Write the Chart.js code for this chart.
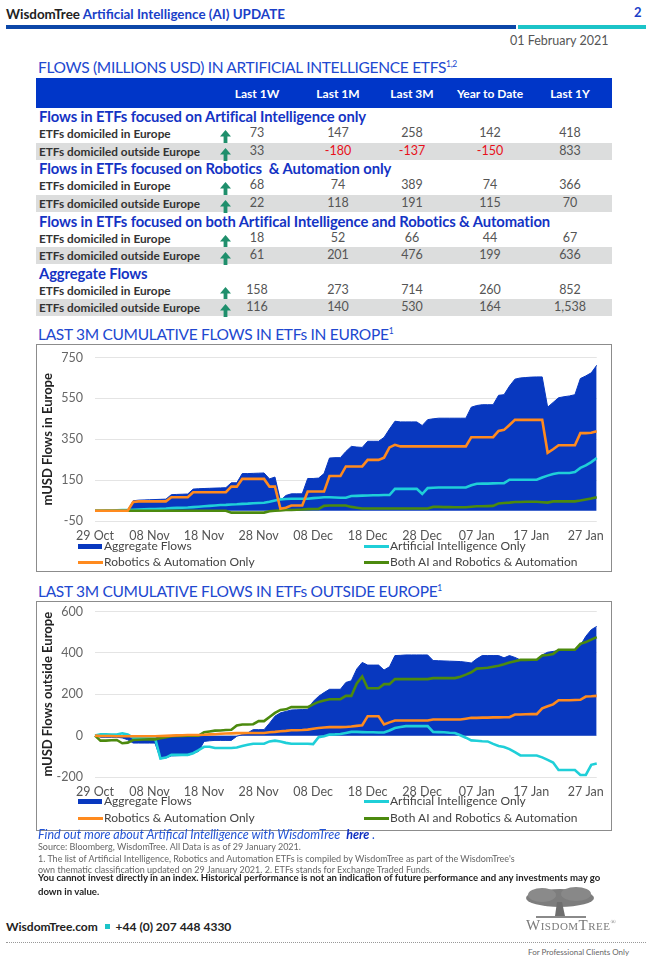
<!DOCTYPE html>
<html>
<head>
<meta charset="utf-8">
<script src="https://cdn.jsdelivr.net/npm/chart.js@4.4.0/dist/chart.umd.min.js"></script>
<style>
  body { margin: 0; width: 650px; height: 957px; background: #fff; font-family: Lato, "Noto Sans", sans-serif; position: relative; overflow: hidden; }
  .abs { position: absolute; white-space: nowrap; }
  canvas { display: block; position: absolute; }
  .blue { color: #1a3fc8; }
  .h2 { font-size: 15.5px; color: #2148d0; letter-spacing: -0.3px; }
  .h2 sup { font-size: 8.5px; }
  .box { position: absolute; left: 36px; width: 574px; border: 1.5px solid #8c8c8c; }
  .sect { font-size: 14.8px; font-weight: bold; color: #1433c4; letter-spacing: -0.1px; }
  .lab { font-size: 11.8px; font-weight: bold; color: #333; }
  .val { font-size: 12.5px; color: #555; transform: translateX(-50%); }
  .neg { color: #e8101a; }
  .hdr { font-size: 12px; font-weight: bold; color: #fff; transform: translateX(-50%); }
  .leg { font-size: 12px; color: #444; }
  .sw { position: absolute; }
  .foot { font-size: 9px; color: #666; }
</style>
</head>
<body>

<div class="abs" style="left:6px;top:6px;font-size:13.4px;font-weight:bold;color:#222;">WisdomTree <span class="blue">Artificial Intelligence (AI) UPDATE</span></div>
<div class="abs blue" style="left:634px;top:4px;font-size:13px;font-weight:bold;">2</div>
<div class="abs" style="left:6px;top:25px;width:510px;height:4px;background:#0c47a8;"></div>
<div class="abs" style="left:518px;top:25px;width:128px;height:4px;background:#1cc4c8;"></div>
<div class="abs" style="left:510px;top:33px;font-size:12.5px;color:#555;">01 February 2021</div>

<div class="abs h2" style="left:38px;top:58px;">FLOWS (MILLIONS USD) IN ARTIFICIAL INTELLIGENCE ETFS<sup>1,2</sup></div>
<div class="abs" style="left:36px;top:78px;width:576px;height:30px;background:#0036c8;"></div>
<div id="table"></div>

<div class="abs h2" style="left:38px;top:325px;">LAST 3M CUMULATIVE FLOWS IN ETFs IN EUROPE<sup>1</sup></div>
<div class="box" style="top:344px;height:226px;"></div>
<canvas id="chartEurope" width="574" height="212" style="left:37px;top:338px;width:574px;height:212px;"></canvas>
<div id="legendEurope"></div>

<div class="abs h2" style="left:38px;top:582px;">LAST 3M CUMULATIVE FLOWS IN ETFs OUTSIDE EUROPE<sup>1</sup></div>
<div class="box" style="top:601px;height:228px;"></div>
<canvas id="chartOutside" width="574" height="214" style="left:37px;top:592px;width:574px;height:214px;"></canvas>
<div id="legendOutside"></div>

<div class="abs" style="left:38px;top:827px;font-size:12.5px;font-style:italic;color:#2354d4;">Find out more about Artifical Intelligence with WisdomTree &nbsp;<b style="color:#1030c0;">here</b> .</div>
<div class="abs foot" style="left:38px;top:841px;">Source: Bloomberg, WisdomTree. All Data is as of 29 January 2021.</div>
<div class="abs foot" style="left:38px;top:853px;">1. The list of Artificial Intelligence, Robotics and Automation ETFs is compiled by WisdomTree as part of the WisdomTree's</div>
<div class="abs foot" style="left:38px;top:864px;">own thematic classification updated on 29 January 2021. 2. ETFs stands for Exchange Traded Funds.</div>
<div class="abs" style="left:38px;top:871px;font-size:9.6px;font-weight:bold;color:#222;line-height:14px;white-space:normal;width:575px;">You cannot invest directly in an index. Historical performance is not an indication of future performance and any investments may go down in value.</div>

<div class="abs" style="left:6px;top:919px;font-size:12px;font-weight:bold;color:#222;">WisdomTree.com <span style="display:inline-block;width:5px;height:5px;background:#1cc4c8;margin:0 3px 2px 4px;"></span> +44 (0) 207 448 4330</div>
<svg class="abs" style="left:522px;top:886px;" width="76" height="34" viewBox="0 0 76 34">
  <ellipse cx="38" cy="12" rx="34" ry="9" fill="#7d7d7d"/>
  <ellipse cx="20" cy="9" rx="14" ry="7" fill="#8a8a8a"/>
  <ellipse cx="54" cy="8" rx="15" ry="7" fill="#888"/>
  <path d="M35 16 L33 30 L43 30 L40 16 Z" fill="#6e6e6e"/>
  <rect x="14" y="30" width="50" height="2" fill="#8a8a8a"/>
</svg>
<div class="abs" style="left:526px;top:917px;font-family:'Liberation Serif','DejaVu Serif',serif;font-size:15px;color:#7a7a7a;font-variant:small-caps;letter-spacing:0.5px;">WisdomTree<sup style="font-size:7px;">®</sup></div>
<div class="abs" style="left:6px;top:942px;width:640px;border-top:1px dotted #999;"></div>
<div class="abs" style="left:528px;top:947px;font-size:8px;color:#666;">For Professional Clients Only</div>

<script>
// table figures
const colHeads = ['Last 1W', 'Last 1M', 'Last 3M', 'Year to Date', 'Last 1Y'];
const sectionTitles = [
  'Flows in ETFs focused on Artifical Intelligence only',
  'Flows in ETFs focused on Robotics &nbsp;&amp; Automation only',
  'Flows in ETFs focused on both Artifical Intelligence and Robotics &amp; Automation',
  'Aggregate Flows'
];
const rowNames = ['ETFs domiciled in Europe', 'ETFs domiciled outside Europe'];
const aiOnlyFlows = [[73, 147, 258, 142, 418], [33, -180, -137, -150, 833]];
const raOnlyFlows = [[68, 74, 389, 74, 366], [22, 118, 191, 115, 70]];
const bothFlows = [[18, 52, 66, 44, 67], [61, 201, 476, 199, 636]];
const aggFlows = [[158, 273, 714, 260, 852], [116, 140, 530, 164, 1538]];

// chart series, one value per calendar day 29 Oct 2020 - 29 Jan 2021
const tickLabels = ['29 Oct', '08 Nov', '18 Nov', '28 Nov', '08 Dec', '18 Dec', '28 Dec', '07 Jan', '17 Jan', '27 Jan'];
const seriesNames = ['Aggregate Flows', 'Artificial Intelligence Only', 'Robotics & Automation Only', 'Both AI and Robotics & Automation'];

const eurAgg = [0,0,1,1,2,3,4, 49, 52,53,54,55,56,57, 79, 80,81,82, 106, 108,109,110,111,112,113,
  137,137, 182, 182,183,184,185, 156,165, 50,75, 83,83,83, 158,158,160, 182, 258, 260,260, 290, 315, 312,310,
  340,340,340, 359, 400, 438, 435,435,435,435, 417, 446, 450, 453,453,453,453,453,453, 507, 515, 519,519,519,
  565,568,610,644, 650,652,654,655,655, 507,530,553, 558,562,568, 647,660,675,712];
const eurAI = [0,0,1,1,2,3,4, 5, 6,7,8,9,10,11, 13, 14,15,16, 18,20,22, 24,26,28,29, 31,32,34, 35,37,38,39,
  44, 50, 56, 58, 59,59,59,59, 62,64,66, 66,65,64,64, 72,73,74,75,76,76,77, 77, 107,107,107,107,107, 82, 111,
  113,114,114,114,114,114,114, 125, 132,133,133,134,135,135, 152,152,152,152,152,152, 163,172,180,
  185,185,185,190, 210, 222, 238, 258];
const eurRA = [0,0,0,0,0,0,0, 43, 46,46,46,46,46,46, 66,66,66,66, 91,91,91,91,91,91,91, 118,118,
  156,156,156,156,156, 118,118, 10, 15,26,26,26, 94,94,94,94, 170,170,170, 217,217,217,217, 249,249,249,
  260, 310, 323, 315,315,315,315,315,315,315,315,315,315,315,315,315, 360,360,360,360,360,
  391,396,420,445, 445,445,445,445,445, 284,301, 321,321,321,321, 380,380,382,389];
const eurBoth = [0,0,0,0,0,0,0,0,0,0,0,0,0,0,0,0,0,0,0,0,0,0,0,0,0, -9,-9,-9,-9,-9,-9,-9, -2, 0,2,4,
  4,5,6,8, 9,9, 24, 26,26,26,26, 19, 15, 11,11,11,11,11,11,11,11,11,11,11,11,11, 19,19,18,18,17,17,17,
  20,22,22,23,24, 36,38,40, 43,43,44,44,44, 42, 40, 46,46,46,46,46, 50,55,60,66];

const outAgg = [0, -8,-8,-8,-8, -11, -20, -36,-36,-36,-36,-36, -112, -108, -98,-97,-96,-96, -86, -76, -28,-25,
  -23,-23,-23,-23, -3, 5, 13, 29,29,29, 60, 94, 110, 117, 124,125,126,127, 165, 190, 208, 224,224,224, 257, 265,
  322, 354, 341,341,341, 317, 333, 387,388, 390,390,390,390,390, 363,362,361,360,359, 358,355, 351, 371,
  387,387,387,387, 376, 387, 378, 366,366,367,367, 390, 403, 407, 411,413,414,415, 436, 480, 512, 528];
const outAI = [0, 6,6,5,5, 11, 6, -10,-10,-11,-11,-11, -111, -106, -93,-93,-93,-93, -85, -70, -54,-54,
  -60,-60,-60,-60, -57, -50, -44, -39,-39,-39, -28, -24, -28, -35, -39,-39,-39,-39,-41, -8, -3, 5, 6,8, 13,
  18,18,17,16,16,15,15, 25, 37, 42, 46,46,46,46,46, 18,17,16,14,13, 2, -10, -23,-25,-27,-28, -40,-50, -55,
  -65, -80, -96,-96,-96,-96, -105, -117, -130, -166,-166,-166,-166, -190,-190, -141, -135];
const outRA = [0,-2,-2,-2,-3,-3,-3,-3,-3,-3,-3,-3, -2,-1,0,1,2,3,3, 3,4,6,7,9,10, 11,12,12,13,13,13,13,
  16,18,21,23, 26,26,27, 29,33, 37,39,41,41, 41,42,44,47,50, 94,94,94, 54, 64, 73,73,73,73,73,73,73,
  78,78,78,78,78,78, 82, 86,86,87,87,88,88,89, 89, 102,102,103,104,104, 132, 142, 151,
  171,171,171,172,173, 189, 190, 192];
const outBoth = [0, -24,-24,-22,-21, -37,-34, -21,-20,-19,-18,-18, -13,-8, -3,-2,-1,0,0,0, 16,20,
  24,25,27,28, 49, 54,54,55, 70,70, 90,110, 124,127, 138,138,138,138, 151, 163, 170, 176,176,176, 192,192,
  252, 286, 229,229,229, 249,249, 273,273,273,273,273,273,273, 278,278,278,278,278, 285, 295, 306,
  324,326,328, 333,338,345, 353, 360, 366,366,367,367, 387,390, 395, 415,415,415,415, 444, 452, 464, 476];

const colors = { agg: '#0838bf', ai: '#1fcfd8', ra: '#ff8a1e', both: '#4c8a0e' };

// build the table
const colX = [257, 338, 412, 490, 570];
const tableEl = document.getElementById('table');
let html = '';
colHeads.forEach((h, i) => {
  html += `<div class="abs hdr" style="left:${colX[i]}px;top:86px;">${h}</div>`;
});
const groups = [aiOnlyFlows, raOnlyFlows, bothFlows, aggFlows];
const arrow = '<svg width="11" height="13" viewBox="0 0 11 13"><path d="M5.5 0 L11 6.5 L7.4 6.5 L7.4 13 L3.6 13 L3.6 6.5 L0 6.5 Z" fill="#1f8f6c"/></svg>';
groups.forEach((g, s) => {
  const top = 108 + s * 52.3;
  html += `<div class="abs sect" style="left:39px;top:${top - 1}px;">${sectionTitles[s]}</div>`;
  g.forEach((vals, r) => {
    const y = top + 18 + r * 17.5;
    if (r === 1) html += `<div class="abs" style="left:36px;top:${y - 1}px;width:576px;height:17px;background:#dcdddd;"></div>`;
    html += `<div class="abs lab" style="left:39px;top:${y}px;">${rowNames[r]}</div>`;
    html += `<div class="abs" style="left:220px;top:${y + 1}px;">${arrow}</div>`;
    vals.forEach((v, c) => {
      const cls = v < 0 ? 'val neg' : 'val';
      html += `<div class="abs ${cls}" style="left:${colX[c]}px;top:${y - 1}px;">${v.toLocaleString('en-US')}</div>`;
    });
  });
});
tableEl.innerHTML = html;

function buildLegend(id, row1, row2) {
  const el = document.getElementById(id);
  const items = [
    { x: 78, y: row1, name: seriesNames[0], c: colors.agg, box: true },
    { x: 364, y: row1, name: seriesNames[1], c: colors.ai },
    { x: 78, y: row2, name: seriesNames[2], c: colors.ra },
    { x: 364, y: row2, name: seriesNames[3], c: colors.both }
  ];
  let s = '';
  items.forEach(it => {
    const w = it.box ? 24 : 25;
    const h = it.box ? 5 : 3;
    s += `<div class="sw" style="left:${it.x}px;top:${it.y - h / 2}px;width:${w}px;height:${h}px;background:${it.c};"></div>`;
    s += `<div class="abs leg" style="left:${it.x + 26}px;top:${it.y - 8}px;">${it.name}</div>`;
  });
  el.innerHTML = s;
}

// one label per day
const days = [];
for (let d = new Date(2020, 9, 29); d <= new Date(2021, 0, 29); d.setDate(d.getDate() + 1)) {
  days.push(d.toISOString().slice(0, 10));
}

Chart.defaults.font.family = 'Lato';
Chart.defaults.animation = false;

function makeChart(id, agg, ai, ra, both, yMin, yMax, yTitle, padTop) {
  const line = (label, data, c, order) => ({
    label, data, borderColor: c, backgroundColor: c, borderWidth: 2.6,
    pointRadius: 0, tension: 0, fill: false, order
  });
  new Chart(document.getElementById(id), {
    type: 'line',
    data: {
      labels: days,
      datasets: [
        line(seriesNames[1], ai, colors.ai, 3),
        line(seriesNames[2], ra, colors.ra, 1),
        line(seriesNames[3], both, colors.both, 2),
        { label: seriesNames[0], data: agg, borderColor: colors.agg, backgroundColor: colors.agg,
          borderWidth: 1, pointRadius: 0, tension: 0, fill: 'origin', order: 10 }
      ]
    },
    options: {
      responsive: false,
      layout: { padding: { top: padTop, right: 10, left: 0, bottom: 0 } },
      plugins: { legend: { display: false }, tooltip: { enabled: false } },
      scales: {
        x: {
          grid: { display: false, drawTicks: false },
          border: { display: false },
          ticks: {
            autoSkip: false, maxRotation: 0, padding: 7, color: '#555', font: { size: 12.5 },
            callback: (v, i) => (i % 10 === 0 ? tickLabels[i / 10] : null)
          }
        },
        y: {
          min: yMin, max: yMax,
          afterFit: s => { s.width = 58; },
          border: { display: false },
          grid: { color: '#e4e4e4', drawTicks: false },
          ticks: { stepSize: 200, padding: 12, color: '#666', font: { size: 12.5 } },
          title: { display: true, text: yTitle, color: '#222', font: { size: 13, weight: 'bold' }, padding: { top: 3, bottom: 0 } }
        }
      }
    }
  });
}

makeChart('chartEurope', eurAgg, eurAI, eurRA, eurBoth, -50, 750, 'mUSD Flows in Europe', 0);
makeChart('chartOutside', outAgg, outAI, outRA, outBoth, -200, 600, 'mUSD Flows outside Europe', 0);
buildLegend('legendEurope', 546, 562);
buildLegend('legendOutside', 801, 818);
</script>
</body>
</html>
